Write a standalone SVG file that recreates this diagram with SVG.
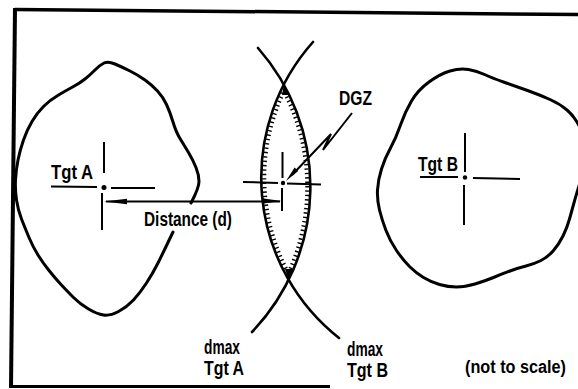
<svg xmlns="http://www.w3.org/2000/svg" width="578" height="389" viewBox="0 0 578 389">
<style>
.blob{fill:none;stroke:#000;stroke-width:3;stroke-linejoin:round;stroke-linecap:round}
.ln{fill:none;stroke:#000;stroke-width:2;stroke-linecap:butt}
.arc{fill:none;stroke:#000;stroke-width:2.6;stroke-linecap:round}
.hatch{fill:none;stroke:#000;stroke-width:4;stroke-dasharray:1.4 3}
.frame{fill:none;stroke:#000;stroke-linejoin:miter}
.lbl{font-family:"Liberation Sans",Arial,sans-serif;font-size:19.5px;font-weight:bold;fill:#000}
.dot{fill:#000}
</style>
<rect width="578" height="389" fill="#fff"/>
<g id="frame">
<path class="frame" stroke-width="3.5" d="M578,14.5 L15,9.5"/>
<path class="frame" stroke-width="4" d="M15,8 L11,388"/>
<path class="frame" stroke-width="3" d="M9,386.5 L330,386.5"/>
</g>
<g id="tgtA">
<path class="blob" d="M173,232 Q163,253 158,263 Q153,273 146.5,283 Q140,293 133.5,300 Q127,307 118.5,311.5 Q110,316 103.5,315 Q97,314 88.5,309 Q80,304 73.5,297.5 Q67,291 61,284.5 Q55,278 49,270.5 Q43,263 38,255 Q33,247 29,237.5 Q25,228 21.5,219 Q18,210 16.5,200 Q15,190 15.5,180 Q16,170 18,160 Q20,150 23.5,140 Q27,130 32,121.5 Q37,113 43.5,106.5 Q50,100 58.5,95 Q67,90 73.5,86.5 Q80,83 85,79 Q90,75 95,70 Q100,65 104,63 Q108,61 115,64 Q122,67 130,71 Q138,75 145,80 Q152,85 157.5,91 Q163,97 166.5,104.5 Q170,112 173,122 Q176,132 180,138.5 Q184,145 188.5,152.5 Q193,160 196,167.5 Q199,175 199,181.5 Q199,188 191,203"/>
<path class="ln" d="M104,142 V173 M102,193 V230 M51,186.5 L97,187 M111,188 L155,188"/>
<circle class="dot" cx="104" cy="187.5" r="2.5"/>
<text class="lbl" x="51" y="179" textLength="42" lengthAdjust="spacingAndGlyphs">Tgt A</text>
</g>
<g id="tgtB">
<path class="blob" d="M450,71 Q460,68 468.5,69.5 Q477,71 484.5,74.5 Q492,78 503.5,82 Q515,86 527.5,90.5 Q540,95 550,99.5 Q560,104 567,110 Q574,116 579,125.5 Q584,135 584,152.5 Q584,170 580.5,181 Q577,192 574.5,201 Q572,210 569.5,219 Q567,228 563,236 Q559,244 553.5,250.5 Q548,257 541,260.5 Q534,264 526,266 Q518,268 510,271 Q502,274 493.5,277.5 Q485,281 475,284 Q465,287 456.5,287 Q448,287 439.5,284.5 Q431,282 423.5,277.5 Q416,273 409.5,266.5 Q403,260 396.5,250.5 Q390,241 386,230.5 Q382,220 379.5,210 Q377,200 377.5,190 Q378,180 381.5,169 Q385,158 390.5,148 Q396,138 400.5,125 Q405,112 411.5,101 Q418,90 429,82 Q440,74 450,71 Z"/>
<path class="ln" d="M465,133 V172 M464,185 V225 M420,177 L458,177 M473,178 L520,179"/>
<circle class="dot" cx="465" cy="177.5" r="2.2"/>
<text class="lbl" x="418" y="171" textLength="40" lengthAdjust="spacingAndGlyphs">Tgt B</text>
</g>
<g id="lens">
<path class="arc" d="M258,48 A210,210 0 0 1 252,332"/>
<path class="arc" d="M313,42 A204,204 0 0 0 339,338"/>
<path class="hatch" d="M284.7,92.7 A207,207 0 0 1 289.4,270.9"/>
<path class="hatch" d="M283.1,92.9 A201,201 0 0 0 286.2,269.1"/>
<polygon class="dot" points="284,84 289,95 282,95"/>
<polygon class="dot" points="289,281 293.5,269 285,269"/>
</g>
<g id="dgz">
<path class="ln" d="M282.5,152 V178 M282,188 V211 M243,182 L278,183 M287,183.5 L321,184.5"/>
<circle class="dot" cx="283" cy="183" r="2.2"/>
<text class="lbl" x="339" y="105" textLength="33" lengthAdjust="spacingAndGlyphs">DGZ</text>
</g>
<g id="connectors">
<path class="ln" d="M106,201.5 H280"/>
<polygon class="dot" points="104,201.5 127,198.8 127,204.2"/>
<polygon class="dot" points="281.5,201 262,198.3 262,203.7"/>
<path class="ln" d="M352,113 L323,150 L331,134 L292,175"/>
<polygon class="dot" points="286,181 298.2,170.9 294.6,167.5"/>
</g>
<g id="labels">
<text class="lbl" x="144" y="226" textLength="88" lengthAdjust="spacingAndGlyphs">Distance (d)</text>
<text class="lbl" x="204" y="354" textLength="36" lengthAdjust="spacingAndGlyphs">dmax</text>
<text class="lbl" x="204" y="375" textLength="40" lengthAdjust="spacingAndGlyphs">Tgt A</text>
<text class="lbl" x="347" y="356" textLength="36" lengthAdjust="spacingAndGlyphs">dmax</text>
<text class="lbl" x="347" y="377" textLength="41" lengthAdjust="spacingAndGlyphs">Tgt B</text>
<text class="lbl" x="465" y="373" style="font-size:17.5px" textLength="101" lengthAdjust="spacingAndGlyphs">(not to scale)</text>
</g>
</svg>
